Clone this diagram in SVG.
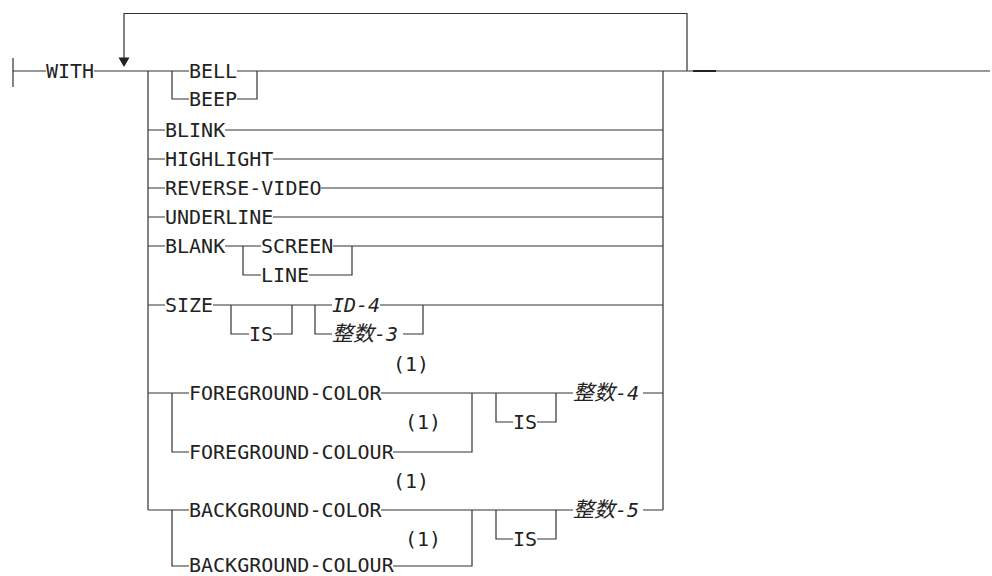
<svg xmlns="http://www.w3.org/2000/svg" width="992" height="576" viewBox="0 0 992 576">
<style>
.t{font-family:"DejaVu Sans Mono","Liberation Mono","Noto Sans CJK SC",monospace;font-size:20px;fill:#222}
.i{font-style:italic}
.c{font-family:"Noto Sans CJK SC","DejaVu Sans Mono",sans-serif;font-size:21px}
.ln{fill:none;stroke:#333;stroke-width:1.2}
.dk{fill:none;stroke:#222;stroke-width:2}
</style>
<rect width="992" height="576" fill="#fff"/>
<g id="connectors">
<path class="ln" d="M13,58 V87 M13,71 H46 M94,71 H148"/>
<path class="ln" d="M124,58 V13.5 H687 V71"/>
<polygon points="118.5,57.5 129.5,57.5 124,67" fill="#222"/>
<path class="ln" d="M663,71 H990"/>
<path class="dk" d="M693,71 H716"/>
<path class="ln" d="M148,71 V510 M663,71 V510"/>
<path class="ln" d="M148,71 H189 M237,71 H663 M172,71 V99 H189 M237,99 H257 V71"/>
<path class="ln" d="M148,130 H165 M225,130 H663"/>
<path class="ln" d="M148,159 H165 M273,159 H663"/>
<path class="ln" d="M148,188 H165 M321,188 H663"/>
<path class="ln" d="M148,217 H165 M273,217 H663"/>
<path class="ln" d="M148,246 H165 M225,246 H261 M243,246 V275 H261 M333,246 H663 M309,275 H352 V246"/>
<path class="ln" d="M148,305 H165 M213,305 H332 M231,305 V334 H249 M273,334 H292 V305 M315,305 V334 H332 M380,305 H663 M403,334 H423 V305"/>
<path class="ln" d="M148,393 H189 M172,393 V452 H189 M381,393 H573 M393,452 H472 V393 M496,393 V422 H513 M537,422 H556 V393 M643,393 H663"/>
<path class="ln" d="M148,510 H189 M172,510 V566 H189 M381,510 H573 M393,566 H472 V510 M496,510 V539 H513 M537,539 H556 V510 M643,510 H663"/>
</g>
<g id="n-with"><text class="t" x="46" y="78">WITH</text></g>
<g id="n-bell"><text class="t" x="189" y="78">BELL</text></g>
<g id="n-beep"><text class="t" x="189" y="106">BEEP</text></g>
<g id="n-blink"><text class="t" x="165" y="137">BLINK</text></g>
<g id="n-highlight"><text class="t" x="165" y="166">HIGHLIGHT</text></g>
<g id="n-reverse"><text class="t" x="165" y="195">REVERSE-VIDEO</text></g>
<g id="n-underline"><text class="t" x="165" y="224">UNDERLINE</text></g>
<g id="n-blank"><text class="t" x="165" y="253">BLANK</text></g>
<g id="n-screen"><text class="t" x="261" y="253">SCREEN</text></g>
<g id="n-line"><text class="t" x="261" y="282">LINE</text></g>
<g id="n-size"><text class="t" x="165" y="312">SIZE</text></g>
<g id="n-size-is"><text class="t" x="249" y="341">IS</text></g>
<g id="n-id4"><text class="t i" x="332" y="312">ID-4</text></g>
<g id="n-int3"><text class="t i" x="332" y="341"><tspan class="c">整数</tspan>-3</text></g>
<g id="n-fg-note1"><text class="t" x="393" y="371">(1)</text></g>
<g id="n-fgcolor"><text class="t" x="189" y="400">FOREGROUND-COLOR</text></g>
<g id="n-fg-note2"><text class="t" x="405" y="429">(1)</text></g>
<g id="n-fgcolour"><text class="t" x="189" y="459">FOREGROUND-COLOUR</text></g>
<g id="n-fg-is"><text class="t" x="513" y="429">IS</text></g>
<g id="n-int4"><text class="t i" x="573" y="400"><tspan class="c">整数</tspan>-4</text></g>
<g id="n-bg-note1"><text class="t" x="393" y="488">(1)</text></g>
<g id="n-bgcolor"><text class="t" x="189" y="517">BACKGROUND-COLOR</text></g>
<g id="n-bg-note2"><text class="t" x="405" y="546">(1)</text></g>
<g id="n-bgcolour"><text class="t" x="189" y="572">BACKGROUND-COLOUR</text></g>
<g id="n-bg-is"><text class="t" x="513" y="546">IS</text></g>
<g id="n-int5"><text class="t i" x="573" y="517"><tspan class="c">整数</tspan>-5</text></g>
</svg>
